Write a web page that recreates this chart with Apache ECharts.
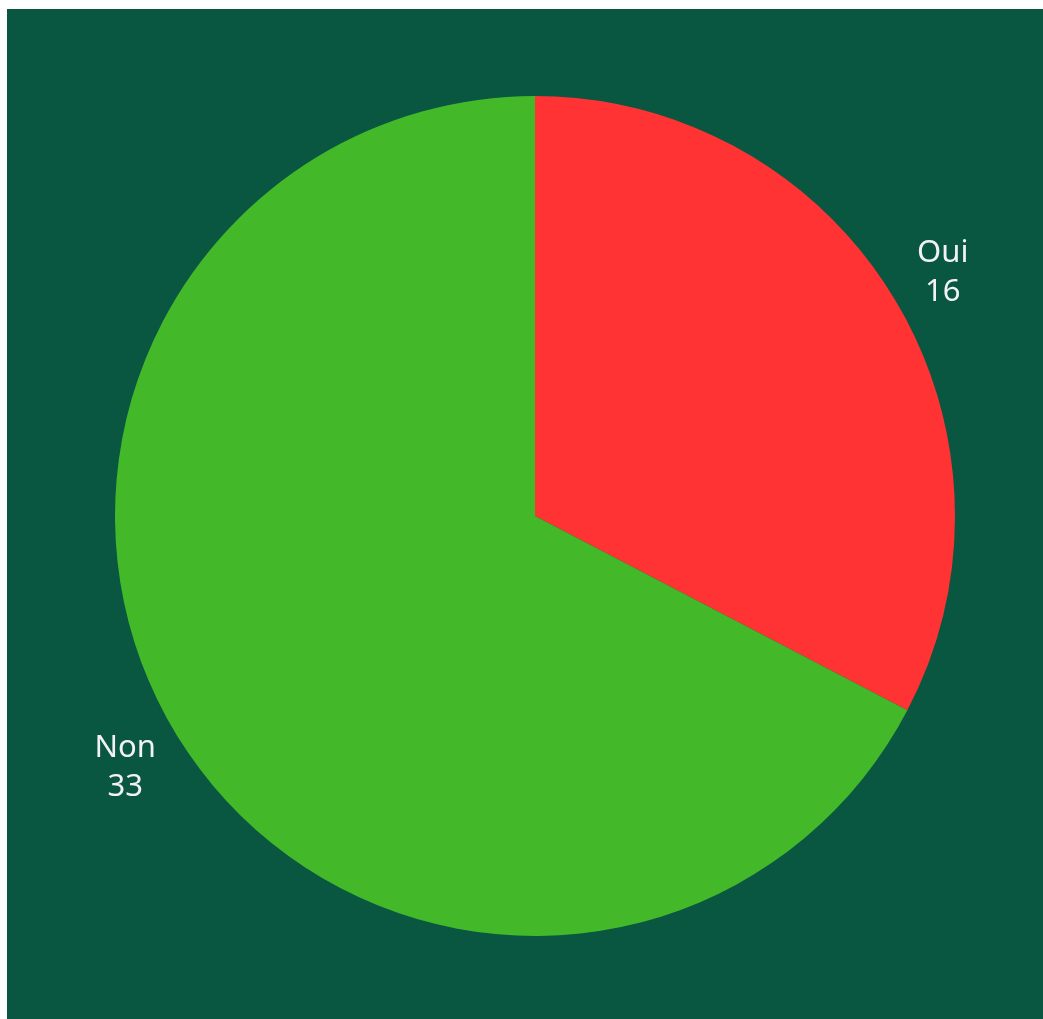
<!DOCTYPE html>
<html>
<head>
<meta charset="utf-8">
<script src="https://cdn.jsdelivr.net/npm/echarts@6/dist/echarts.min.js"></script>
<style>
  html, body { margin: 0; padding: 0; background: #ffffff; }
  #chart { position: absolute; left: 7px; top: 9px; width: 1036px; height: 1010px; }
</style>
</head>
<body>
<div id="chart"></div>
<script>
// Answers and their counts
const categories = ['Oui', 'Non'];
const counts = [16, 33];
const sliceColors = ['#FF3333', '#43B929'];

const sliceData = categories.map((name, i) => ({
  name: name,
  value: counts[i],
  itemStyle: { color: sliceColors[i] }
}));

// Same values on a transparent ring, used only to place the labels further out
const labelData = categories.map((name, i) => ({
  name: name,
  value: counts[i]
}));

const chart = echarts.init(document.getElementById('chart'), null, { renderer: 'canvas' });

chart.setOption({
  backgroundColor: '#095641',
  animation: false,
  series: [
    {
      type: 'pie',
      center: [528, 507],
      radius: [0, 420],
      startAngle: 90,
      clockwise: true,
      silent: true,
      label: { show: false },
      labelLine: { show: false },
      itemStyle: { borderWidth: 0 },
      data: sliceData
    },
    {
      type: 'pie',
      center: [528, 507],
      radius: [465, 485],
      startAngle: 90,
      clockwise: true,
      silent: true,
      itemStyle: { color: 'transparent', borderWidth: 0 },
      label: {
        show: true,
        position: 'inside',
        formatter: '{b}\n{c}',
        color: '#F2F2F2',
        fontFamily: 'Noto Sans',
        fontSize: 31,
        lineHeight: 39,
        align: 'center',
        offset: [-1, 4]
      },
      labelLine: { show: false },
      data: labelData
    }
  ]
});
</script>
</body>
</html>
